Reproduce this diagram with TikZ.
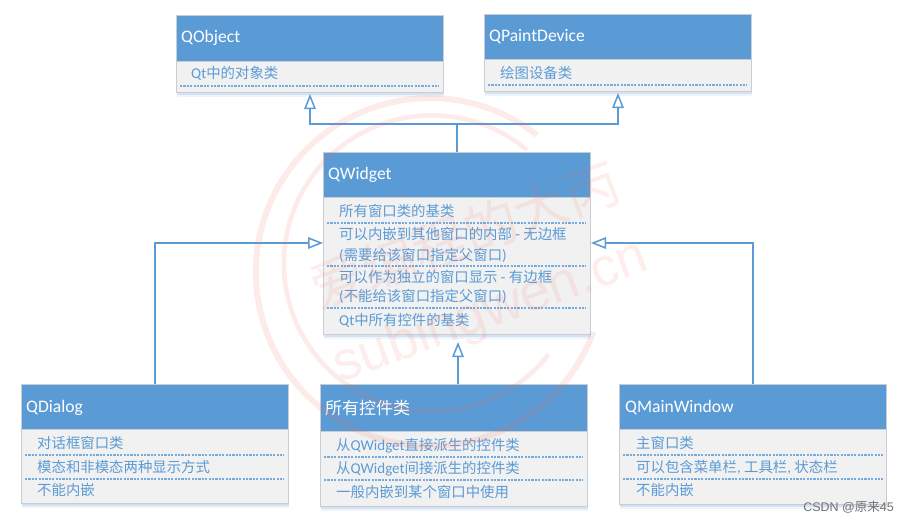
\documentclass[tikz,border=0pt]{standalone}
\usepackage{fontspec}
\setmainfont{Noto Sans CJK SC}
\newfontfamily\latf{Carlito}
\newfontfamily\csdnf{Liberation Sans}
\newcommand\en[1]{{\latf\fontsize{15}{17}\selectfont #1}}
\usetikzlibrary{arrows.meta,shadows}
\definecolor{qblue}{HTML}{5B9BD5}
\definecolor{qbody}{HTML}{F1F1F1}
\definecolor{qedge}{HTML}{C9CDD2}
\definecolor{qdash}{HTML}{74ABDD}
\definecolor{wm}{HTML}{F26A5A}
\tikzset{
  cardbox/.style={anchor=north west,draw=qedge,line width=1pt,fill=qbody,inner sep=0pt,
    minimum width=267pt,
    general shadow={shadow xshift=0pt,shadow yshift=-4pt,fill=qblue,opacity=.10,scale=1.0},
    general shadow={shadow xshift=0pt,shadow yshift=-2.5pt,fill=qblue,opacity=.18,scale=1.0}},
  headbox/.style={anchor=north west,fill=qblue,draw=qedge,line width=.6pt,inner sep=0pt,minimum width=267pt},
  headtext/.style={anchor=base west,inner sep=0pt,text=white,font=\latf\fontsize{17.6}{20}\selectfont},
  headcjk/.style={anchor=base west,inner sep=0pt,text=white,font=\fontsize{17}{20}\selectfont},
  bodytext/.style={anchor=base west,inner sep=0pt,text=qblue,font=\fontsize{14.4}{17}\selectfont},
  sepline/.style={draw=qdash,line width=1.3pt,dash pattern=on 2.2pt off 1.2pt},
  inherit/.style={draw=qblue,line width=1.5pt,-{Triangle[open,fill=white,length=15pt,width=11.5pt,line width=1.5pt]}},
  plainlink/.style={draw=qblue,line width=1.5pt},
  wmline/.style={draw=wm,opacity=.13,line width=6pt},
  wmtext/.style={text=wm,text opacity=.11,inner sep=0pt}
}
\begin{document}
\begin{tikzpicture}[x=1pt,y=-1pt]
\useasboundingbox (0,0) rectangle (909,522);
\fill[white] (0,0) rectangle (909,522);

% cards
\node[cardbox,minimum height=77pt] (qobject) at (176,15) {};
\node[headbox,minimum height=46pt] (qobjecthead) at (176,15) {};
\node[cardbox,minimum height=77pt] (qpaint) at (484,14) {};
\node[headbox,minimum height=45pt] (qpainthead) at (484,14) {};
\node[cardbox,minimum height=182pt] (qwidget) at (323,152) {};
\node[headbox,minimum height=45pt] (qwidgethead) at (323,152) {};
\node[cardbox,minimum height=119pt] (qdialog) at (21,384) {};
\node[headbox,minimum height=45pt] (qdialoghead) at (21,384) {};
\node[cardbox,minimum height=122pt] (ctrl) at (320,384) {};
\node[headbox,minimum height=47pt] (ctrlhead) at (320,384) {};
\node[cardbox,minimum height=120pt] (qmain) at (619,384) {};
\node[headbox,minimum height=45pt] (qmainhead) at (619,384) {};

% connectors
\coordinate (hubl) at (qobject.south |- 0,124);
\coordinate (hubr) at (qpaint.south |- 0,124);
\coordinate (hubm) at (qwidget.north |- 0,124);
\draw[inherit] (hubm) -- (hubl) -- ([yshift=-1pt]qobject.south);
\draw[inherit] (hubm) -- (hubr) -- ([yshift=-1pt]qpaint.south);
\draw[plainlink] (qwidget.north) -- (hubm);
\coordinate (dlgturn) at (qdialog.north |- 0,243);
\coordinate (mainturn) at (qmain.north |- 0,243);
\coordinate (wl) at (qwidget.west |- 0,243);
\coordinate (wr) at (qwidget.east |- 0,243);
\draw[inherit] (qdialog.north) -- (dlgturn) -- (wl);
\draw[inherit] (qmain.north) -- (mainturn) -- (wr);
\coordinate (ctrlup) at (458,384);
\coordinate (ctrltip) at (458,342);
\draw[inherit] (ctrlup) -- (ctrltip);

% separators
\draw[sepline] (180,86) -- (439,86);
\draw[sepline] (488,85) -- (747,85);
\draw[sepline] (327,223) -- (586,223);
\draw[sepline] (327,266) -- (586,266);
\draw[sepline] (327,308) -- (586,308);
\draw[sepline] (25,455) -- (284,455);
\draw[sepline] (25,479) -- (284,479);
\draw[sepline] (324,457) -- (583,457);
\draw[sepline] (324,480) -- (583,480);
\draw[sepline] (623,455) -- (883,455);
\draw[sepline] (623,479) -- (883,479);

% texts
\node[headtext] (t1) at (181,42.5) {QObject};
\node[bodytext] (t2) at (191,78) {\en{Qt}中的对象类};
\node[headtext] (t3) at (489,41.5) {QPaintDevice};
\node[bodytext] (t4) at (500,78) {绘图设备类};
\node[headtext] (t5) at (328,179) {QWidget};
\node[bodytext] (t6) at (339,216) {所有窗口类的基类};
\node[bodytext] (t7) at (339,239) {可以内嵌到其他窗口的内部\en{ - }无边框};
\node[bodytext] (t8) at (339,260) {\en{(}需要给该窗口指定父窗口\en{)}};
\node[bodytext] (t9) at (339,282) {可以作为独立的窗口显示\en{ - }有边框};
\node[bodytext] (t10) at (339,301) {\en{(}不能给该窗口指定父窗口\en{)}};
\node[bodytext] (t11) at (339,325) {\en{Qt}中所有控件的基类};
\node[headtext] (t12) at (26,412) {QDialog};
\node[bodytext] (t13) at (37,448) {对话框窗口类};
\node[bodytext] (t14) at (37,472) {模态和非模态两种显示方式};
\node[bodytext] (t15) at (37,495) {不能内嵌};
\node[headcjk] (t16) at (325,414) {所有控件类};
\node[bodytext] (t17) at (336,450) {从\en{QWidget}直接派生的控件类};
\node[bodytext] (t18) at (336,473) {从\en{QWidget}间接派生的控件类};
\node[bodytext] (t19) at (336,497) {一般内嵌到某个窗口中使用};
\node[headtext] (t20) at (625,412) {QMainWindow};
\node[bodytext] (t21) at (636,448) {主窗口类};
\node[bodytext] (t22) at (636,472) {可以包含菜单栏\en{, }工具栏\en{, }状态栏};
\node[bodytext] (t23) at (636,495) {不能内嵌};

% faint stamp
\draw[wmline] (537,135) arc[start angle=-52,end angle=-340,radius=174];
\draw[wmline,line width=4.5pt] (527,150) arc[start angle=-50,end angle=-322,radius=148];
\node[wmtext,rotate=20,font=\fontsize{54}{60}\selectfont] (wm1) at (465,235) {爱编程的大丙};
\node[wmtext,rotate=20,font=\csdnf\fontsize{54}{60}\selectfont] (wm2) at (491,313) {subingwen.cn};

\node[anchor=base east,inner sep=0pt,text=black!55,font=\fontsize{12.5}{14}\selectfont] (csdn) at (894,511) {{\csdnf CSDN @}原来{\csdnf 45}};
\end{tikzpicture}
\end{document}
